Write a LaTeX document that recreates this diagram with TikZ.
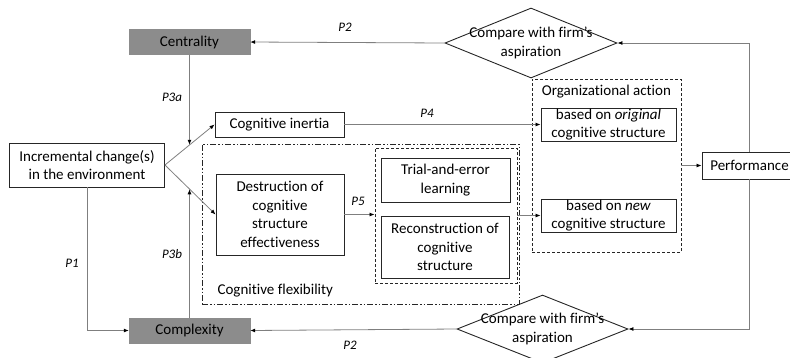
\documentclass[tikz,border=0pt]{standalone}
\usepackage{fontspec}
\setmainfont{Carlito}[Ligatures=NoCommon]
\usetikzlibrary{arrows.meta,shapes.geometric,calc}
\definecolor{linegray}{HTML}{7F7F7F}
\definecolor{boxfill}{HTML}{8C8C8C}
\definecolor{edge}{HTML}{262626}
\tikzset{
  txt/.style={font=\fontsize{15}{18.5}\selectfont, align=center, text=black},
  plainbox/.style={txt, draw=edge, line width=0.9pt, inner sep=0pt},
  graybox/.style={txt, fill=boxfill, draw=boxfill, inner sep=0pt, minimum width=121pt, minimum height=25pt},
  dia/.style={shape=diamond, draw=edge, line width=0.9pt, inner sep=0pt},
  conn/.style={draw=linegray, line width=0.8pt, -{Latex[length=5pt,width=4pt,color=black]}},
  plain/.style={draw=linegray, line width=0.8pt},
  plab/.style={font=\fontsize{13}{15}\selectfont\itshape, text=black},
  dashbox/.style={draw=edge, line width=0.9pt, dash pattern=on 3pt off 2pt, inner sep=0pt},
  dotdashbox/.style={draw=edge, line width=0.9pt, dash pattern=on 6pt off 2pt on 1.5pt off 2pt on 1.5pt off 2pt, inner sep=0pt}
}
\begin{document}
\begin{tikzpicture}[x=1pt,y=-1pt]
\useasboundingbox (0,0) rectangle (790,357);
% containers
\node[dotdashbox, minimum width=317pt, minimum height=160pt] (flex) at (360.5,224) {};
\node[dashbox, minimum width=142pt, minimum height=135pt] (grp) at (446,215.5) {};
\node[dashbox, minimum width=149pt, minimum height=173pt] (org) at (606.5,165.5) {};
\node[txt, anchor=west] (flexlab) at (214,291) {Cognitive flexibility};
\node[txt] (orglab) at (606.5,92) {Organizational action};
% boxes
\node[graybox] (cent) at (189.5,42) {Centrality};
\node[graybox] (compl) at (189.5,330.5) {Complexity};
\node[plainbox, minimum width=155pt, minimum height=44pt] (inc) at (87,165) {Incremental change(s)\\in the environment};
\node[plainbox, minimum width=129pt, minimum height=25pt] (inert) at (279.5,124.5) {Cognitive inertia};
\node[plainbox, minimum width=128pt, minimum height=81pt] (destr) at (280,214.5) {Destruction of\\cognitive\\structure\\effectiveness};
\node[plainbox, minimum width=129pt, minimum height=44pt] (trial) at (445.5,180) {Trial-and-error\\learning};
\node[plainbox, minimum width=128pt, minimum height=62pt] (recon) at (445,247) {Reconstruction of\\cognitive\\structure};
\node[plainbox, minimum width=135pt, minimum height=33pt] (orig) at (608.5,124.5) {based on \textit{original}\\cognitive structure};
\node[plainbox, minimum width=135pt, minimum height=33pt] (new) at (608.5,215.5) {based on \textit{new}\\cognitive structure};
\node[plainbox, minimum width=95pt, minimum height=27pt] (perf) at (749.5,165.5) {Performance};
% diamonds
\node[dia, minimum width=172pt, minimum height=70pt] (cmp1) at (531,43) {};
\node[txt] (cmp1t) at (cmp1.center) {Compare with firm’s\\aspiration};
\node[dia, minimum width=171pt, minimum height=68pt] (cmp2) at (542.5,329) {};
\node[txt] (cmp2t) at (cmp2.center) {Compare with firm’s\\aspiration};
% connectors
\coordinate (m1) at ($(inc.east)!.5!(inert.west)$);
\coordinate (m2) at ($(inc.east)!.49!(destr.west)$);
\draw[conn] (cmp1.west) -- (cent.east);
\draw[conn] (perf.north) |- (cmp1.east);
\draw[conn] (perf.south) |- (cmp2.east);
\draw[conn] (cmp2.west) -- (compl.east);
\draw[conn] (inc.east) -- (inert.west);
\draw[conn] (inc.east) -- (destr.west);
\draw[conn] (cent.south) -- (cent.south |- m1);
\draw[conn] (compl.north) -- (compl.north |- m2);
\draw[conn] (inc.south) |- (compl.west);
\draw[conn] (inert.east) -- (orig.west);
\draw[conn] (destr.east) -- (destr.east -| grp.west);
\draw[conn] (grp.east |- new.west) -- (new.west);
\draw[conn] (org.east |- perf.west) -- (perf.west);
% labels
\node[plab] (p2a) at (345,27) {P2};
\node[plab] (p3a) at (172,97) {P3a};
\node[plab] (p4) at (427,113) {P4};
\node[plab] (p5) at (358,201) {P5};
\node[plab] (p3b) at (172,254) {P3b};
\node[plab] (p1) at (72,263) {P1};
\node[plab] (p2b) at (350,345) {P2};
\end{tikzpicture}
\end{document}
